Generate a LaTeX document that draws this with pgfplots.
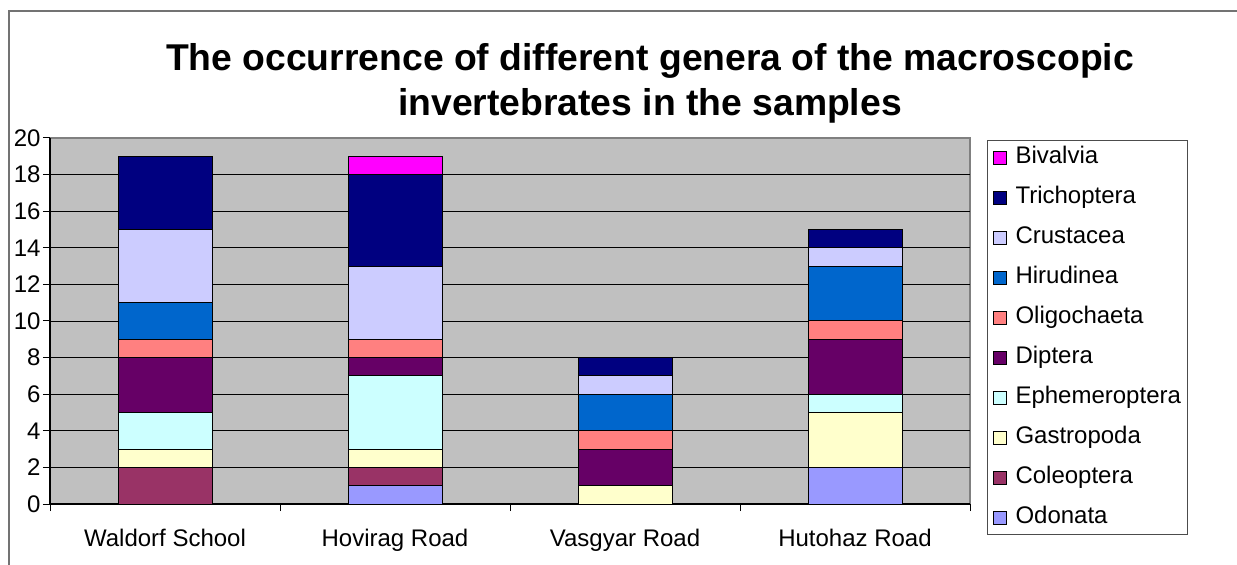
\documentclass[border=0pt]{standalone}
\usepackage{pgfplots}
\pgfplotsset{compat=1.18}
\usepackage{fontspec}
\setmainfont{Liberation Sans}
\definecolor{cOdo}{HTML}{9999FF}
\definecolor{cCol}{HTML}{993366}
\definecolor{cGas}{HTML}{FFFFCC}
\definecolor{cEph}{HTML}{CCFFFF}
\definecolor{cDip}{HTML}{660066}
\definecolor{cOli}{HTML}{FF8080}
\definecolor{cHir}{HTML}{0066CC}
\definecolor{cCru}{HTML}{CCCCFF}
\definecolor{cTri}{HTML}{000080}
\definecolor{cBiv}{HTML}{FF00FF}
\definecolor{cBg}{HTML}{C0C0C0}
\begin{document}
\begin{tikzpicture}
\useasboundingbox (0bp,0bp) rectangle (1237bp,565bp);
\draw[black!55, line width=1.2bp] (9bp,0bp) -- (9bp,554bp) -- (1237bp,554bp);
\node[font=\bfseries\fontsize{37.3bp}{45bp}\selectfont, align=center] at (650bp,482bp) {The occurrence of different genera of the macroscopic\\invertebrates in the samples};
\begin{axis}[at={(50bp,61bp)}, anchor=south west, scale only axis, width=920bp, height=366bp,
  ybar stacked, bar width=94bp,
  ymin=0, ymax=20, xmin=-0.5, xmax=3.5,
  ytick={0,2,...,18}, extra y ticks={20}, extra tick style={grid=none},
  xtick={0,1,2,3},
  xticklabels={Waldorf School, Hovirag Road, Vasgyar Road, Hutohaz Road},
  minor xtick={-0.5,0.5,1.5,2.5,3.5},
  major x tick style={draw=none},
  tick align=outside, major tick length=7bp, minor tick length=7bp,
  tick style={black, line width=1bp},
  ymajorgrids, grid style={black, line width=0.9bp},
  axis lines*=left, axis line style={black, line width=1.2bp, -},
  axis background/.style={fill=cBg, draw=black!50, line width=1.5bp},
  ticklabel style={font=\fontsize{24bp}{28bp}\selectfont},
  yticklabel style={xshift=1bp},
  xticklabel style={yshift=-15bp},
  /pgf/number format/assume math mode=true,
  reverse legend,
  legend style={at={(1.0185,0.995)}, anchor=north west, draw=black!70, line width=1bp,
    font=\fontsize{24bp}{28bp}\selectfont, inner xsep=5bp, inner ysep=4bp, row sep=14bp,
    nodes={inner sep=2bp, text height=17bp, text depth=5bp},
    /tikz/every odd column/.append style={column sep=7bp}},
  legend cell align=left,
  legend image code/.code={\draw[#1, line width=1bp] (0bp,-7bp) rectangle (13bp,6bp);},
  every axis plot/.append style={draw=black, line width=1bp},
]
\addplot[fill=cOdo] coordinates {(0,0) (1,1) (2,0) (3,2)};
\addlegendentry{Odonata}
\addplot[fill=cCol] coordinates {(0,2) (1,1) (2,0) (3,0)};
\addlegendentry{Coleoptera}
\addplot[fill=cGas] coordinates {(0,1) (1,1) (2,1) (3,3)};
\addlegendentry{Gastropoda}
\addplot[fill=cEph] coordinates {(0,2) (1,4) (2,0) (3,1)};
\addlegendentry{Ephemeroptera}
\addplot[fill=cDip] coordinates {(0,3) (1,1) (2,2) (3,3)};
\addlegendentry{Diptera}
\addplot[fill=cOli] coordinates {(0,1) (1,1) (2,1) (3,1)};
\addlegendentry{Oligochaeta}
\addplot[fill=cHir] coordinates {(0,2) (1,0) (2,2) (3,3)};
\addlegendentry{Hirudinea}
\addplot[fill=cCru] coordinates {(0,4) (1,4) (2,1) (3,1)};
\addlegendentry{Crustacea}
\addplot[fill=cTri] coordinates {(0,4) (1,5) (2,1) (3,1)};
\addlegendentry{Trichoptera}
\addplot[fill=cBiv] coordinates {(0,0) (1,1) (2,0) (3,0)};
\addlegendentry{Bivalvia}
\end{axis}
\end{tikzpicture}
\end{document}
